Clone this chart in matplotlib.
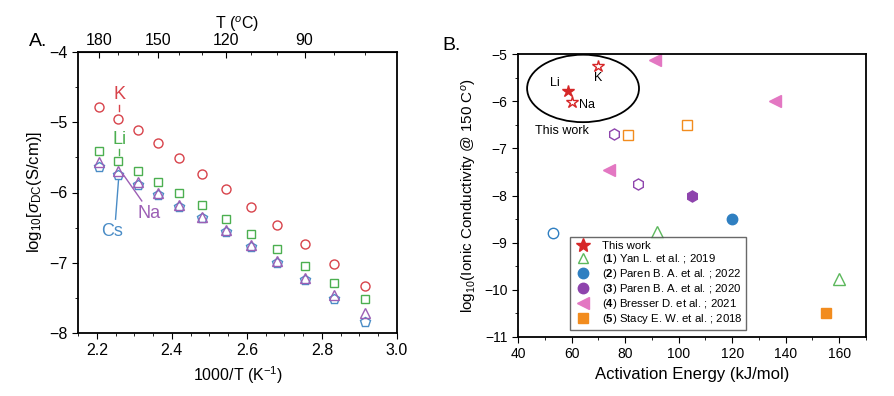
import numpy as np
import matplotlib
matplotlib.use("Agg")
import matplotlib.pyplot as plt
from matplotlib.patches import Ellipse
from matplotlib.ticker import MultipleLocator, FixedLocator

plt.rcParams['font.family'] = ['Liberation Sans', 'DejaVu Sans']
plt.rcParams['mathtext.fontset'] = 'custom'
plt.rcParams['mathtext.rm'] = 'Liberation Sans'
plt.rcParams['mathtext.bf'] = 'Liberation Sans:bold'
plt.rcParams['mathtext.it'] = 'Liberation Sans:italic'

# ---- panel A: log10 sigma_DC vs 1000/T
inv_T = [2.207, 2.257, 2.309, 2.363, 2.420, 2.480, 2.544, 2.610, 2.680, 2.754, 2.832, 2.914]
sig_K = [-4.79, -4.95, -5.11, -5.30, -5.51, -5.73, -5.95, -6.20, -6.46, -6.73, -7.02, -7.33]
sig_Li = [-5.41, -5.55, -5.69, -5.85, -6.01, -6.18, -6.38, -6.59, -6.81, -7.05, -7.29, -7.51]
sig_Na = [-5.57, -5.69, -5.85, -6.01, -6.18, -6.35, -6.54, -6.75, -6.97, -7.21, -7.46, -7.71]
sig_Cs = [-5.63, -5.75, -5.89, -6.04, -6.21, -6.37, -6.56, -6.77, -7.01, -7.24, -7.52, -7.85]
top_T_major = [180, 150, 120, 90]
top_T_minor = [70, 80, 100, 110, 130, 140, 160, 170]

# ---- panel B: conductivity @150C vs activation energy
this_Ea = [58.7, 60.1, 70]
this_s = [-5.79, -6.01, -5.25]
this_fill = [True, False, False]
yan_Ea = [92, 160]
yan_s = [-8.78, -9.78]
paren22_Ea = [53, 120]
paren22_s = [-8.80, -8.50]
paren22_fill = [False, True]
paren20_Ea = [76, 85, 105]
paren20_s = [-6.70, -7.75, -8.0]
paren20_fill = [False, False, True]
bresser_Ea = [91, 136, 74]
bresser_s = [-5.13, -6.0, -7.46]
stacy_Ea = [81, 103, 155]
stacy_s = [-6.71, -6.50, -10.50]
stacy_fill = [False, False, True]

cK, cLi, cNa, cCs = "#d8434b", "#4caf50", "#9c5fb5", "#4a8cc6"
c_red, c_green, c_blue, c_purple, c_pink, c_orange = "#d62728", "#5cb85c", "#2f7fc1", "#8e44ad", "#e377c2", "#f28c1e"

fig = plt.figure(figsize=(8.94, 3.96), dpi=100)
axA = fig.add_axes([78 / 894, 1 - 333 / 396, (397 - 78) / 894, (333 - 52) / 396])
axB = fig.add_axes([518 / 894, 1 - 337 / 396, (866 - 518) / 894, (337 - 54) / 396])

ms = 6.5
axA.plot(inv_T, sig_K, 'o', ls='none', mfc='none', mec=cK, ms=ms, mew=1)
axA.plot(inv_T, sig_Li, 's', ls='none', mfc='none', mec=cLi, ms=ms - 1, mew=1)
axA.plot(inv_T, sig_Cs, 'p', ls='none', mfc='none', mec=cCs, ms=ms + 0.5, mew=1)
axA.plot(inv_T, sig_Na, '^', ls='none', mfc='none', mec=cNa, ms=ms, mew=1)
axA.set_xlim(2.15, 3.0)
axA.set_ylim(-8, -4)
axA.xaxis.set_major_locator(MultipleLocator(0.2))
axA.xaxis.set_minor_locator(MultipleLocator(0.05))
axA.yaxis.set_major_locator(MultipleLocator(1))
axA.yaxis.set_minor_locator(MultipleLocator(0.5))
axA.xaxis.set_major_formatter(plt.FormatStrFormatter('%.1f'))
axA.tick_params(which='both', direction='out', labelsize=11.5)
axA.tick_params(which='major', length=4)
axA.tick_params(which='minor', length=2)
for s in axA.spines.values():
    s.set_linewidth(1.3)
axA.set_xlabel("1000/T (K$^{-1}$)", fontsize=11.5)
axA.set_ylabel(r"log$_{10}$[$\sigma_{\mathrm{DC}}$(S/cm)]", fontsize=12)

with np.errstate(divide='ignore'):
    secA = axA.secondary_xaxis('top', functions=(lambda x: 1000 / np.asarray(x, float) - 273.15,
                                                 lambda t: 1000 / (np.asarray(t, float) + 273.15)))
secA.xaxis.set_major_locator(FixedLocator(top_T_major))
secA.xaxis.set_minor_locator(FixedLocator(top_T_minor))
secA.tick_params(which='both', direction='in', labelsize=11.5, pad=3)
secA.tick_params(which='major', length=4)
secA.tick_params(which='minor', length=2)
secA.set_xlabel("T ($^{o}$C)", fontsize=11.5, labelpad=3)

axA.text(2.26, -4.6, "K", color=cK, fontsize=13, ha='center', va='center')
axA.plot([2.26, 2.26], [-4.76, -4.84], color=cK, lw=1)
axA.text(2.26, -5.24, "Li", color=cLi, fontsize=13, ha='center', va='center')
axA.plot([2.26, 2.26], [-5.38, -5.46], color=cLi, lw=1)
axA.text(2.34, -6.3, "Na", color=cNa, fontsize=13, ha='center', va='center')
axA.plot([2.27, 2.32], [-5.74, -6.12], color=cNa, lw=1)
axA.text(2.24, -6.55, "Cs", color=cCs, fontsize=13, ha='center', va='center')
axA.plot([2.25, 2.258], [-6.38, -5.82], color=cCs, lw=1)

fig.text(38 / 894, 1 - 42 / 396, "A.", fontsize=14, ha='center', va='center')
fig.text(452 / 894, 1 - 45 / 396, "B.", fontsize=14, ha='center', va='center')

# panel B points
msB = 8
for x, y, f in zip(this_Ea, this_s, this_fill):
    axB.plot(x, y, '*', ms=msB + 1, mec=c_red, mfc=c_red if f else 'none', mew=1)
for x, y in zip(yan_Ea, yan_s):
    axB.plot(x, y, '^', ms=msB, mec=c_green, mfc='none', mew=1)
for x, y, f in zip(paren22_Ea, paren22_s, paren22_fill):
    axB.plot(x, y, 'o', ms=msB - 0.5, mec=c_blue, mfc=c_blue if f else 'none', mew=1)
for x, y, f in zip(paren20_Ea, paren20_s, paren20_fill):
    axB.plot(x, y, 'h', ms=msB, mec=c_purple, mfc=c_purple if f else 'none', mew=1)
for x, y in zip(bresser_Ea, bresser_s):
    axB.plot(x, y, '<', ms=msB + 1, mec=c_pink, mfc=c_pink, mew=1)
for x, y, f in zip(stacy_Ea, stacy_s, stacy_fill):
    axB.plot(x, y, 's', ms=msB - 1.5, mec=c_orange, mfc=c_orange if f else 'none', mew=1)

axB.add_patch(Ellipse((64.3, -5.73), 41.8, 1.43, fill=False, ec='black', lw=1.3))
axB.text(53.8, -5.62, "Li", fontsize=9, ha='center', va='center')
axB.text(70, -5.5, "K", fontsize=9, ha='center', va='center')
axB.text(65.7, -6.08, "Na", fontsize=9, ha='center', va='center')
axB.text(56.3, -6.64, "This work", fontsize=9, ha='center', va='center')

handles = [
    plt.Line2D([], [], marker='*', ls='none', ms=10, mec=c_red, mfc=c_red),
    plt.Line2D([], [], marker='^', ls='none', ms=7.5, mec=c_green, mfc='none'),
    plt.Line2D([], [], marker='o', ls='none', ms=7.5, mec=c_blue, mfc=c_blue),
    plt.Line2D([], [], marker='o', ls='none', ms=7.5, mec=c_purple, mfc=c_purple),
    plt.Line2D([], [], marker='<', ls='none', ms=8, mec=c_pink, mfc=c_pink),
    plt.Line2D([], [], marker='s', ls='none', ms=6.5, mec=c_orange, mfc=c_orange),
]
labels = ["This work",
          r"($\mathbf{1}$) Yan L. et al. ; 2019",
          r"($\mathbf{2}$) Paren B. A. et al. ; 2022",
          r"($\mathbf{3}$) Paren B. A. et al. ; 2020",
          r"($\mathbf{4}$) Bresser D. et al. ; 2021",
          r"($\mathbf{5}$) Stacy E. W. et al. ; 2018"]
leg = axB.legend(handles, labels, loc='lower left', bbox_to_anchor=(0.15, 0.024), fontsize=8.2,
                 frameon=True, fancybox=False, edgecolor='#444444', borderpad=0.35,
                 labelspacing=0.1, handletextpad=0.8, handlelength=1.6, borderaxespad=0)
leg.get_frame().set_linewidth(1)

axB.set_xlim(40, 170)
axB.set_ylim(-11, -5)
axB.xaxis.set_major_locator(MultipleLocator(20))
axB.xaxis.set_minor_locator(MultipleLocator(10))
axB.yaxis.set_major_locator(MultipleLocator(1))
axB.yaxis.set_minor_locator(MultipleLocator(0.5))
axB.tick_params(which='both', direction='out', labelsize=10)
axB.tick_params(which='major', length=4)
axB.tick_params(which='minor', length=2)
for s in axB.spines.values():
    s.set_linewidth(1.3)
axB.set_xlabel("Activation Energy (kJ/mol)", fontsize=12)
axB.set_ylabel(r"log$_{10}$(Ionic Conductivity @ 150 C$^{o}$)", fontsize=11)

fig.savefig("out.png", dpi=100)
